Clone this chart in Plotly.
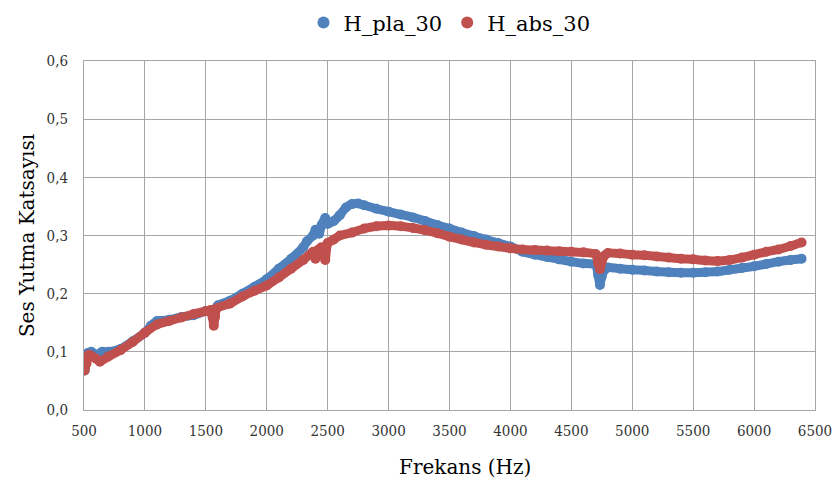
import plotly.graph_objects as go

# Frequency (Hz) and absorption coefficient readings
pla_freq = [505, 515, 530, 560, 600, 650, 700, 800, 900, 1000, 1050, 1100, 1200, 1300, 1400, 1500,
            1560, 1600, 1700, 1800, 1900, 2000, 2100, 2200, 2300, 2330, 2380, 2400, 2430, 2450, 2480,
            2500, 2550, 2600, 2650, 2700, 2750, 2800, 2900, 3000, 3100, 3200, 3300, 3400, 3500, 3600,
            3700, 3800, 3900, 4000, 4100, 4200, 4300, 4400, 4500, 4600, 4700, 4720, 4735, 4750, 4770,
            4800, 4900, 5000, 5100, 5200, 5300, 5400, 5500, 5600, 5700, 5800, 5900, 6000, 6100, 6200,
            6300, 6390]
pla_vals = [0.068, 0.080, 0.098, 0.100, 0.095, 0.100, 0.100, 0.105, 0.118, 0.133, 0.145, 0.153, 0.155,
            0.160, 0.163, 0.170, 0.172, 0.180, 0.188, 0.200, 0.212, 0.225, 0.243, 0.260, 0.280, 0.290,
            0.300, 0.310, 0.303, 0.318, 0.330, 0.320, 0.325, 0.335, 0.348, 0.354, 0.355, 0.352, 0.346,
            0.341, 0.336, 0.331, 0.325, 0.318, 0.312, 0.305, 0.299, 0.293, 0.287, 0.281, 0.272, 0.267,
            0.263, 0.259, 0.255, 0.252, 0.250, 0.232, 0.215, 0.230, 0.240, 0.245, 0.243, 0.241, 0.240,
            0.238, 0.237, 0.236, 0.236, 0.237, 0.238, 0.241, 0.244, 0.247, 0.251, 0.255, 0.258, 0.260]

abs_freq = [505, 520, 540, 560, 600, 630, 700, 800, 900, 1000, 1100, 1200, 1300, 1400, 1500, 1540,
            1555, 1565, 1575, 1590, 1700, 1800, 1900, 2000, 2100, 2200, 2300, 2380, 2400, 2420, 2450,
            2480, 2500, 2550, 2600, 2700, 2800, 2900, 3000, 3100, 3200, 3300, 3400, 3500, 3600, 3700,
            3800, 3900, 4000, 4100, 4200, 4300, 4400, 4500, 4600, 4700, 4720, 4735, 4750, 4770, 4800,
            4900, 5000, 5100, 5200, 5300, 5400, 5500, 5600, 5700, 5800, 5900, 6000, 6100, 6200, 6300,
            6390]
abs_vals = [0.068, 0.080, 0.095, 0.093, 0.088, 0.083, 0.092, 0.103, 0.117, 0.133, 0.147, 0.153, 0.159,
            0.165, 0.170, 0.172, 0.160, 0.145, 0.160, 0.175, 0.183, 0.195, 0.205, 0.214, 0.228, 0.243,
            0.258, 0.272, 0.260, 0.275, 0.280, 0.258, 0.287, 0.293, 0.300, 0.305, 0.312, 0.316, 0.317,
            0.316, 0.313, 0.309, 0.304, 0.298, 0.293, 0.288, 0.284, 0.281, 0.278, 0.276, 0.275, 0.274,
            0.273, 0.272, 0.271, 0.268, 0.252, 0.242, 0.255, 0.265, 0.270, 0.269, 0.267, 0.266, 0.264,
            0.262, 0.260, 0.259, 0.257, 0.256, 0.258, 0.262, 0.267, 0.272, 0.276, 0.282, 0.288]

series_names = ["H_pla_30", "H_abs_30"]
series_colors = ["#4f81bd", "#c0504d"]

y_tickvals = [0.0, 0.1, 0.2, 0.3, 0.4, 0.5, 0.6]
y_ticktext = ["0,0", "0,1", "0,2", "0,3", "0,4", "0,5", "0,6"]
x_tickvals = [500, 1000, 1500, 2000, 2500, 3000, 3500, 4000, 4500, 5000, 5500, 6000, 6500]
x_title = "Frekans (Hz)"
y_title = "Ses Yutma Katsayısı"

FONT = "DejaVu Serif"
TICKFONT = "DejaVu Serif Condensed, DejaVu Serif"

fig = go.Figure()
for name, xs, ys, col in [(series_names[0], pla_freq, pla_vals, series_colors[0]),
                          (series_names[1], abs_freq, abs_vals, series_colors[1])]:
    fig.add_trace(go.Scatter(x=xs, y=ys, mode="lines+markers", name=name,
                             line=dict(color=col, width=9, shape="spline", smoothing=0.4),
                             marker=dict(color=col, size=10),
                             showlegend=False))
for name, col in zip(series_names, series_colors):
    fig.add_trace(go.Scatter(x=[None], y=[None], mode="markers", name=name,
                             marker=dict(color=col, size=8)))

fig.add_annotation(text=x_title, xref="paper", yref="paper", x=0.521, y=-0.162,
                   xanchor="center", yanchor="middle", showarrow=False,
                   font=dict(family=FONT, size=20, color="black"))

fig.update_layout(
    width=833, height=487,
    margin=dict(l=84, r=18, t=61, b=77, autoexpand=False),
    paper_bgcolor="white", plot_bgcolor="white",
    font=dict(family=FONT, color="#404040"),
    showlegend=True,
    legend=dict(orientation="h", x=0.5, xanchor="center", y=0.995, yanchor="top",
                yref="container", font=dict(family=FONT, size=21, color="black"),
                itemsizing="constant", tracegroupgap=0),
    xaxis=dict(range=[500, 6500], tickvals=x_tickvals, showgrid=True, gridcolor="#a6a6a6",
               gridwidth=1, showline=True, linecolor="#a6a6a6", mirror=True, zeroline=False,
               automargin=False, ticklabelstandoff=7,
               ticks="", tickfont=dict(family=TICKFONT, size=15, color="#333333")),
    yaxis=dict(range=[0, 0.6], tickvals=y_tickvals, ticktext=y_ticktext, showgrid=True,
               gridcolor="#a6a6a6", gridwidth=1, showline=True, linecolor="#a6a6a6", mirror=True,
               zeroline=False, automargin=False, ticklabelstandoff=12,
               ticks="", tickfont=dict(family=TICKFONT, size=15, color="#333333"),
               title=dict(text=y_title, font=dict(family=FONT, size=20, color="black"),
                          standoff=6)),
)

fig.write_html("out.html")
